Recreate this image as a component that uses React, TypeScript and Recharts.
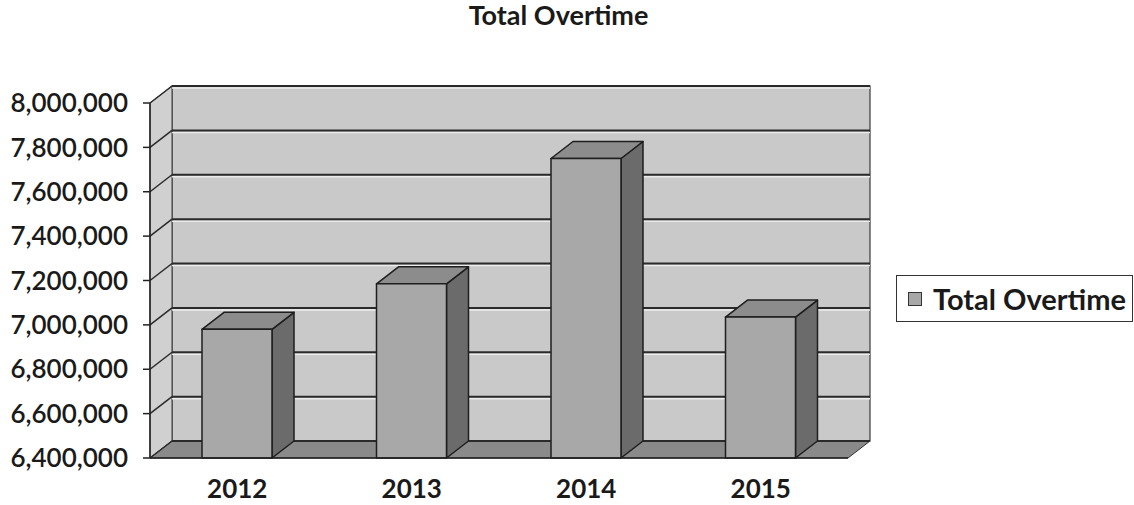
import { BarChart, Bar, XAxis, YAxis, CartesianGrid, Legend } from 'recharts';

const years = ['2012', '2013', '2014', '2015'];
const totalOvertime = [6980000, 7185000, 7750000, 7035000];
const yTicks = [6400000, 6600000, 6800000, 7000000, 7200000, 7400000, 7600000, 7800000, 8000000];
const edgeTicks = [0, 1, 2, 3, 4]; // tick marks sit between the years

const data = years.map((year, i) => ({ year, overtime: totalOvertime[i], slot: i + 0.5 }));

// depth of the fake 3d box
const DX = 22;
const DY = -17;
const FONT = "Lato, 'Open Sans', sans-serif";

// each horizontal grid line goes on the back wall, plus a slanted piece on the side wall.
// the walls and floor are drawn once, with the first line, so they stay behind everything
function WallLine(props: any) {
    const { x1, x2, y1, index, x, y, width, height } = props;
    const bottom = y + height;
    return (
        <g key={`wall-${index}`}>
            {index === 0 && (
                <g>
                    <rect x={x + DX} y={y + DY} width={width} height={height} fill="#c9c9c9" stroke="#3a3a3a" strokeWidth={1.2} />
                    <polygon
                        points={`${x},${y} ${x + DX},${y + DY} ${x + DX},${bottom + DY} ${x},${bottom}`}
                        fill="#d0d0d0"
                        stroke="#3a3a3a"
                        strokeWidth={1}
                    />
                    <polygon
                        points={`${x},${bottom} ${x + width},${bottom} ${x + width + DX},${bottom + DY} ${x + DX},${bottom + DY}`}
                        fill="#8a8a8a"
                        stroke="#333"
                        strokeWidth={1}
                    />
                </g>
            )}
            {y1 < bottom - 1 && (
                <line x1={x1 + DX} y1={y1 + DY + 2} x2={x2 + DX} y2={y1 + DY + 2} stroke="#ececec" strokeWidth={1.5} />
            )}
            <line x1={x1 + DX} y1={y1 + DY} x2={x2 + DX} y2={y1 + DY} stroke="#2a2a2a" strokeWidth={2} />
            <line x1={x1} y1={y1} x2={x1 + DX} y2={y1 + DY} stroke="#2a2a2a" strokeWidth={1.5} />
        </g>
    );
}

function Box(props: any) {
    const { x, y, width, height } = props;
    if (!height) return null;
    const r = x + width;
    const b = y + height;
    return (
        <g stroke="#1e1e1e" strokeWidth={1.5} strokeLinejoin="round">
            <polygon points={`${r},${y} ${r + DX},${y + DY} ${r + DX},${b + DY} ${r},${b}`} fill="#6b6b6b" />
            <polygon points={`${x},${y} ${x + DX},${y + DY} ${r + DX},${y + DY} ${r},${y}`} fill="#8c8c8c" />
            <rect x={x} y={y} width={width} height={height} fill="#a8a8a8" />
        </g>
    );
}

function LegendBox(props: any) {
    const name = props.payload && props.payload[0] ? props.payload[0].value : '';
    return (
        <div
            style={{
                border: '1.5px solid #333',
                background: '#fff',
                height: 47,
                boxSizing: 'border-box',
                display: 'flex',
                alignItems: 'center',
                paddingLeft: 11,
            }}
        >
            <span
                style={{
                    display: 'inline-block',
                    width: 12,
                    height: 12,
                    background: '#a8a8a8',
                    border: '1.5px solid #333',
                    marginRight: 11,
                }}
            />
            <span style={{ fontFamily: FONT, fontWeight: 700, fontSize: 29, color: '#1a1a1a', whiteSpace: 'nowrap' }}>{name}</span>
        </div>
    );
}

export default function App() {
    return (
        <div style={{ position: 'absolute', left: 0, top: 0, width: 1134, height: 505, background: '#fff' }}>
            <div
                style={{
                    position: 'absolute',
                    left: 0,
                    top: -1,
                    width: 1117,
                    textAlign: 'center',
                    fontFamily: FONT,
                    fontWeight: 700,
                    fontSize: 27,
                    lineHeight: 1.2,
                    color: '#1a1a1a',
                }}
            >
                Total Overtime
            </div>
            <BarChart width={1134} height={505} data={data} margin={{ top: 103, right: 286, bottom: 0, left: 0 }}>
                <CartesianGrid vertical={false} horizontal={WallLine} />
                <XAxis
                    xAxisId="edges"
                    type="number"
                    dataKey="slot"
                    domain={[0, 4]}
                    ticks={edgeTicks}
                    height={0}
                    tick={false}
                    axisLine={false}
                    tickSize={6}
                    tickLine={{ stroke: '#333', strokeWidth: 1.5 }}
                />
                <XAxis
                    dataKey="year"
                    height={47}
                    axisLine={{ stroke: '#222', strokeWidth: 1.5 }}
                    tickLine={false}
                    tickSize={0}
                    tickMargin={22}
                    tick={{ fontFamily: FONT, fontSize: 26, fontWeight: 700, fill: '#1a1a1a' }}
                />
                <YAxis
                    width={150}
                    domain={[6400000, 8000000]}
                    ticks={yTicks}
                    tickFormatter={(v: number) => v.toLocaleString('en-US')}
                    axisLine={{ stroke: '#222', strokeWidth: 1.5 }}
                    tickLine={{ stroke: '#222', strokeWidth: 1.5 }}
                    tickSize={7}
                    tickMargin={15}
                    tick={{ fontFamily: FONT, fontSize: 26, fontWeight: 600, fill: '#1a1a1a' }}
                />
                <Bar dataKey="overtime" name="Total Overtime" barSize={70} shape={Box} isAnimationActive={false} />
                <Legend
                    layout="horizontal"
                    verticalAlign="middle"
                    align="center"
                    wrapperStyle={{ left: 896, top: 275, width: 237 }}
                    content={LegendBox}
                />
            </BarChart>
        </div>
    );
}
